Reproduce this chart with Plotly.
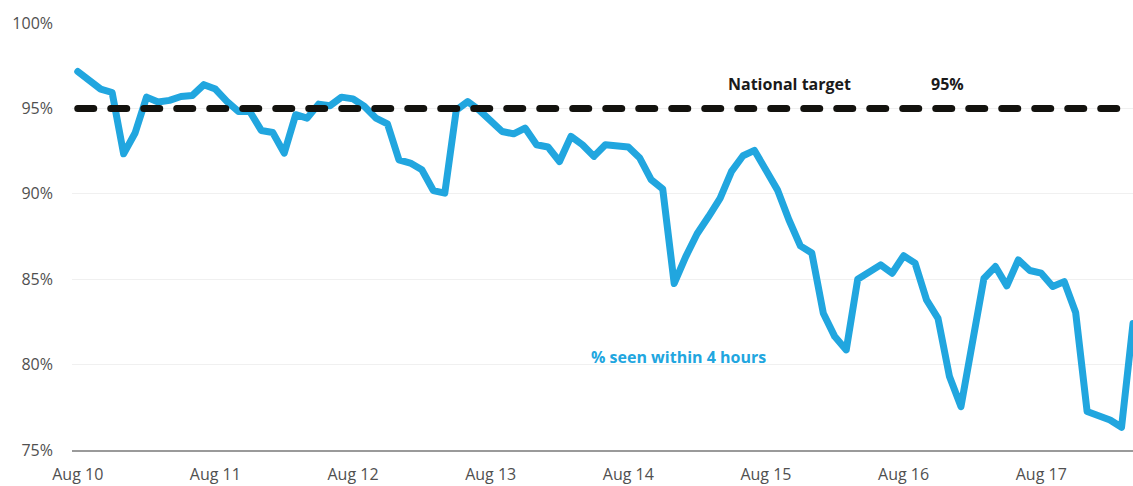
import pandas as pd
import plotly.graph_objects as go

# ---- data ----
START = "2022-08-10 00:00"
STEP = "2h"
seen_within_4h = [
    97.16, 96.58, 96.13, 95.93, 92.34, 93.56, 95.66, 95.37, 95.47, 95.70,
    95.76, 96.39, 96.13, 95.41, 94.82, 94.82, 93.71, 93.59, 92.38, 94.63,
    94.43, 95.25, 95.16, 95.66, 95.56, 95.11, 94.43, 94.10, 91.99, 91.80,
    91.41, 90.19, 90.04, 94.90, 95.40, 94.90, 94.24, 93.65, 93.51, 93.85,
    92.87, 92.74, 91.89, 93.36, 92.87, 92.19, 92.87, 92.81, 92.74, 92.09,
    90.82, 90.28, 84.75, 86.31, 87.66, 88.67, 89.73, 91.31, 92.23, 92.54,
    91.41, 90.23, 88.48, 86.95, 86.53, 83.01, 81.64, 80.86, 85.00, 85.41,
    85.84, 85.35, 86.37, 85.94, 83.79, 82.71, 79.30, 77.54, 81.47, 85.04,
    85.74, 84.61, 86.13, 85.51, 85.35, 84.57, 84.86, 83.05, 77.25, 77.00,
    76.76, 76.33, 82.40,
]
TARGET = 95
y_ticks = [75, 80, 85, 90, 95, 100]
x_tick_labels = ["Aug 10", "Aug 11", "Aug 12", "Aug 13", "Aug 14", "Aug 15", "Aug 16", "Aug 17"]

times = pd.date_range(START, periods=len(seen_within_4h), freq=STEP)
day_ticks = pd.date_range(START, periods=len(x_tick_labels), freq="D")

BLUE = "#21a6df"
FONT = "Open Sans"

fig = go.Figure()
fig.add_trace(go.Scatter(
    x=times, y=seen_within_4h, mode="lines",
    line=dict(color=BLUE, width=7), hoverinfo="skip",
))
fig.add_trace(go.Scatter(
    x=[times[0], times[-1]], y=[TARGET, TARGET], mode="lines",
    line=dict(color="#13120e", width=7, dash="16px,17px"), hoverinfo="skip",
))

fig.update_layout(
    width=1133, height=486,
    margin=dict(l=72, r=0, t=23, b=36),
    paper_bgcolor="white", plot_bgcolor="white",
    showlegend=False,
    font=dict(family=FONT, size=16, color="#505050"),
    xaxis=dict(
        range=[times[0] - pd.Timedelta(hours=1), times[-1]],
        tickvals=day_ticks, ticktext=x_tick_labels,
        showgrid=False, zeroline=False, automargin=False,
        showline=True, linecolor="#9a9a9a", linewidth=2,
        ticks="", ticklabelstandoff=9,
        tickfont=dict(family=FONT, size=16, color="#505050"),
    ),
    yaxis=dict(
        range=[75, 100], tickvals=y_ticks,
        ticktext=[f"{v}%" for v in y_ticks],
        showgrid=True, gridcolor="#f0f0f0", gridwidth=1,
        zeroline=False, showline=False, ticks="", automargin=False,
        ticklabelstandoff=18,
        tickfont=dict(family=FONT, size=16, color="#505050"),
    ),
    annotations=[
        dict(text="National target", xref="paper", yref="paper",
             x=0.6758, y=0.857, xanchor="center", yanchor="middle", showarrow=False,
             font=dict(family=FONT, size=16, color="#1a1a1a", weight="bold")),
        dict(text=f"{TARGET}%", xref="paper", yref="paper",
             x=0.8252, y=0.857, xanchor="center", yanchor="middle", showarrow=False,
             font=dict(family=FONT, size=16, color="#1a1a1a", weight="bold")),
        dict(text="% seen within 4 hours", xref="paper", yref="paper",
             x=0.5721, y=0.2185, xanchor="center", yanchor="middle", showarrow=False,
             font=dict(family=FONT, size=16, color=BLUE, weight="bold")),
    ],
)

post = """
var s=document.createElement('style');
s.textContent='.js-line{stroke-linecap:round;stroke-linejoin:round}';
document.head.appendChild(s);
"""
fig.write_html("out.html", post_script=post)
